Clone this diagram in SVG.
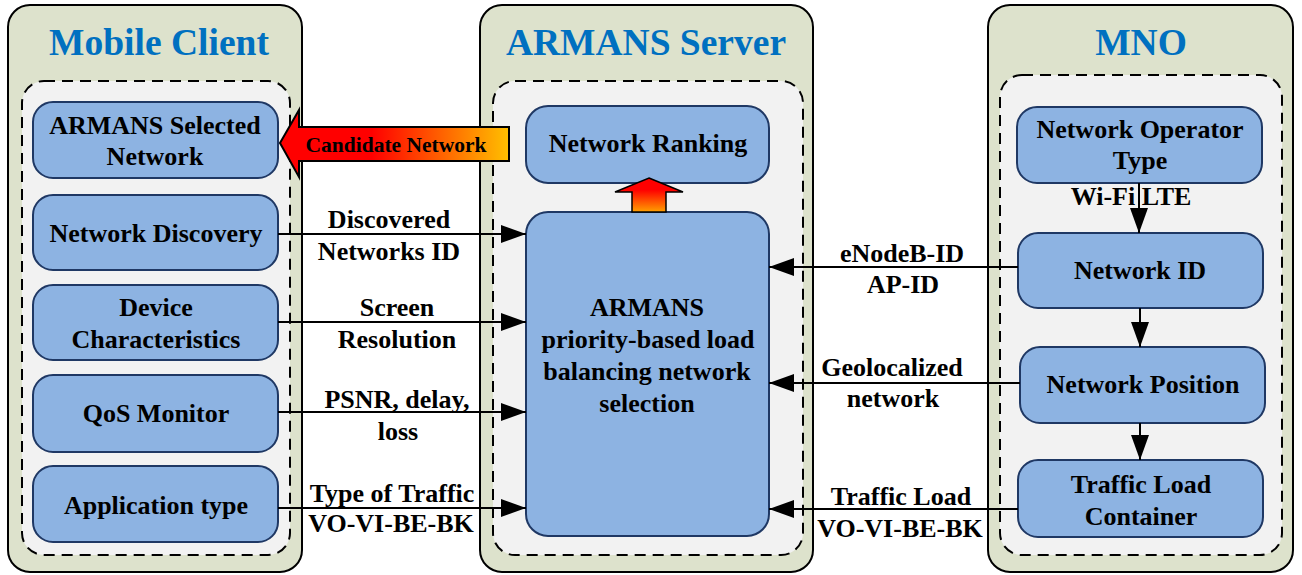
<svg xmlns="http://www.w3.org/2000/svg" width="1302" height="575" viewBox="0 0 1302 575">
  <defs>
    <style>
      .panel { fill: #DDE2CC; stroke: #000; stroke-width: 2; }
      .inner { fill: #F2F2F2; stroke: #000; stroke-width: 2; stroke-dasharray: 11 7; }
      .node { fill: #8DB3E2; stroke: #1F3864; stroke-width: 2; }
      .title { font-family: "Liberation Serif", "Times New Roman", serif; font-weight: bold; font-size: 37.5px; fill: #0070C0; text-anchor: middle; }
      .txt { font-family: "Liberation Serif", "Times New Roman", serif; font-weight: bold; font-size: 26px; fill: #000; text-anchor: middle; }
      .lbl { font-family: "Liberation Serif", "Times New Roman", serif; font-weight: bold; font-size: 26px; fill: #000; text-anchor: middle; }
      .cand { font-family: "Liberation Serif", "Times New Roman", serif; font-weight: bold; font-size: 21.5px; fill: #000; text-anchor: middle; }
      .conn { stroke: #000; stroke-width: 2; fill: none; }
    </style>
    <marker id="arrow" markerUnits="userSpaceOnUse" markerWidth="26" markerHeight="18" refX="25" refY="9" orient="auto">
      <path d="M0,0 L25,9 L0,18 z" fill="#000"/>
    </marker>
    <linearGradient id="gradH" x1="0" y1="0" x2="1" y2="0">
      <stop offset="0" stop-color="#FF0000"/>
      <stop offset="0.4" stop-color="#FF0000"/>
      <stop offset="1" stop-color="#FFC000"/>
    </linearGradient>
    <linearGradient id="gradV" x1="0" y1="0" x2="0" y2="1">
      <stop offset="0" stop-color="#FF0000"/>
      <stop offset="0.35" stop-color="#FF0000"/>
      <stop offset="1" stop-color="#FFA000"/>
    </linearGradient>
  </defs>

  <rect width="1302" height="575" fill="#FFFFFF"/>

  <!-- Mobile client panel -->
  <g id="panel-mobile">
    <rect class="panel" x="8" y="5" width="294" height="567" rx="22"/>
    <text class="title" x="159" y="55">Mobile Client</text>
    <rect class="inner" x="22" y="81" width="268" height="474" rx="22"/>
  </g>

  <!-- Server panel -->
  <g id="panel-server">
    <rect class="panel" x="480" y="5" width="333" height="567" rx="22"/>
    <text class="title" x="646" y="55">ARMANS Server</text>
    <rect class="inner" x="493" y="81" width="310" height="474" rx="22"/>
  </g>

  <!-- MNO panel -->
  <g id="panel-mno">
    <rect class="panel" x="988" y="5" width="305" height="567" rx="22"/>
    <text class="title" x="1141" y="55">MNO</text>
    <rect class="inner" x="1000" y="75" width="282" height="480" rx="22"/>
  </g>

  <!-- Mobile client nodes -->
  <g id="node-selected">
    <rect class="node" x="33" y="102" width="245" height="76" rx="20"/>
    <text class="txt" x="155" y="134">ARMANS Selected</text>
    <text class="txt" x="155" y="165">Network</text>
  </g>
  <g id="node-discovery">
    <rect class="node" x="33" y="195" width="245" height="75" rx="20"/>
    <text class="txt" x="156" y="242">Network Discovery</text>
  </g>
  <g id="node-device">
    <rect class="node" x="33" y="285" width="245" height="75" rx="20"/>
    <text class="txt" x="156" y="316">Device</text>
    <text class="txt" x="156" y="348">Characteristics</text>
  </g>
  <g id="node-qos">
    <rect class="node" x="33" y="375" width="245" height="77" rx="20"/>
    <text class="txt" x="156" y="422">QoS Monitor</text>
  </g>
  <g id="node-apptype">
    <rect class="node" x="33" y="466" width="245" height="76" rx="20"/>
    <text class="txt" x="156" y="514">Application type</text>
  </g>

  <!-- Server nodes -->
  <g id="node-ranking">
    <rect class="node" x="526" y="106" width="243" height="77" rx="22"/>
    <text class="txt" x="648" y="152">Network Ranking</text>
  </g>
  <g id="node-selection">
    <rect class="node" x="526" y="212" width="243" height="324" rx="22"/>
    <text class="txt" x="647" y="316">ARMANS</text>
    <text class="txt" x="648" y="348">priority-based load</text>
    <text class="txt" x="647" y="380">balancing network</text>
    <text class="txt" x="647" y="412">selection</text>
  </g>

  <!-- MNO nodes -->
  <g id="node-operator">
    <rect class="node" x="1017" y="107" width="245" height="76" rx="20"/>
    <text class="txt" x="1140" y="138">Network Operator</text>
    <text class="txt" x="1140" y="169">Type</text>
  </g>
  <g id="node-netid">
    <rect class="node" x="1018" y="233" width="245" height="75" rx="20"/>
    <text class="txt" x="1140" y="279">Network ID</text>
  </g>
  <g id="node-position">
    <rect class="node" x="1020" y="347" width="245" height="76" rx="20"/>
    <text class="txt" x="1143" y="393">Network Position</text>
  </g>
  <g id="node-traffic">
    <rect class="node" x="1018" y="460" width="245" height="77" rx="20"/>
    <text class="txt" x="1141" y="493">Traffic Load</text>
    <text class="txt" x="1141" y="525">Container</text>
  </g>

  <!-- Connectors -->
  <g id="connectors">
    <!-- block arrows -->
    <path d="M280,143 L299,110 L299,127 L509,127 L509,161 L299,161 L299,177 Z" fill="url(#gradH)" stroke="#000" stroke-width="2"/>
    <text class="cand" x="396" y="152">Candidate Network</text>
    <path d="M649,178 L683,192 L666,192 L666,212 L632,212 L632,192 L615,192 Z" fill="url(#gradV)" stroke="#000" stroke-width="1.5"/>

    <!-- client to server -->
    <line class="conn" x1="278" y1="234" x2="526" y2="234" marker-end="url(#arrow)"/>
    <text class="lbl" x="389" y="228">Discovered</text>
    <text class="lbl" x="389" y="260">Networks ID</text>

    <line class="conn" x1="278" y1="322" x2="526" y2="322" marker-end="url(#arrow)"/>
    <text class="lbl" x="397" y="316">Screen</text>
    <text class="lbl" x="397" y="348">Resolution</text>

    <line class="conn" x1="278" y1="412" x2="526" y2="412" marker-end="url(#arrow)"/>
    <text class="lbl" x="397" y="408">PSNR, delay,</text>
    <text class="lbl" x="398" y="440">loss</text>

    <line class="conn" x1="278" y1="508" x2="526" y2="508" marker-end="url(#arrow)"/>
    <text class="lbl" x="392" y="502">Type of Traffic</text>
    <text class="lbl" x="391" y="532">VO-VI-BE-BK</text>

    <!-- MNO to server -->
    <line class="conn" x1="1018" y1="267" x2="769" y2="267" marker-end="url(#arrow)"/>
    <text class="lbl" x="902" y="262">eNodeB-ID</text>
    <text class="lbl" x="903" y="293">AP-ID</text>

    <line class="conn" x1="1020" y1="383" x2="769" y2="383" marker-end="url(#arrow)"/>
    <text class="lbl" x="892" y="376">Geolocalized</text>
    <text class="lbl" x="893" y="407">network</text>

    <line class="conn" x1="1018" y1="509" x2="769" y2="509" marker-end="url(#arrow)"/>
    <text class="lbl" x="901" y="505">Traffic Load</text>
    <text class="lbl" x="900" y="537">VO-VI-BE-BK</text>

    <!-- MNO internal chain -->
    <line class="conn" x1="1139" y1="183" x2="1139" y2="233" marker-end="url(#arrow)"/>
    <text class="lbl" x="1131" y="205">Wi-Fi LTE</text>
    <line class="conn" x1="1140" y1="308" x2="1140" y2="347" marker-end="url(#arrow)"/>
    <line class="conn" x1="1140" y1="423" x2="1140" y2="460" marker-end="url(#arrow)"/>
  </g>
</svg>
